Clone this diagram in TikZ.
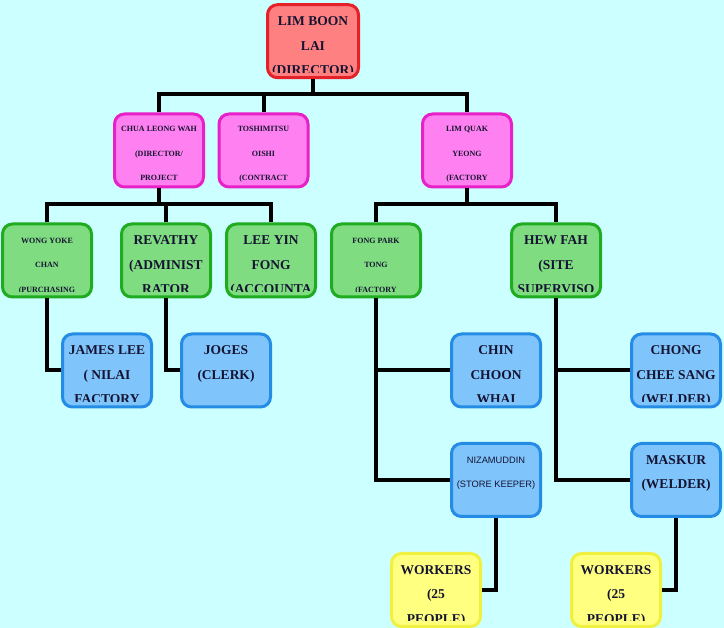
\documentclass[tikz,border=0pt]{standalone}
\usepackage{fontspec}
\setmainfont{Liberation Serif}
\newfontfamily\sansf{Liberation Sans}
\definecolor{bgc}{RGB}{204,255,255}
\definecolor{redf}{RGB}{255,128,128}\definecolor{redd}{RGB}{228,32,40}
\definecolor{magf}{RGB}{255,128,240}\definecolor{magd}{RGB}{232,32,200}
\definecolor{grnf}{RGB}{128,220,128}\definecolor{grnd}{RGB}{32,172,32}
\definecolor{bluf}{RGB}{128,196,252}\definecolor{blud}{RGB}{36,140,228}
\definecolor{yelf}{RGB}{255,255,128}\definecolor{yeld}{RGB}{240,240,64}
\definecolor{txt}{RGB}{20,20,50}
\tikzset{
  obox/.style={rectangle, rounded corners=10pt, line width=3pt, minimum width=89pt, minimum height=73pt, inner sep=0pt, anchor=north},
  rootbox/.style={obox, fill=redf, draw=redd},
  magbox/.style={obox, fill=magf, draw=magd},
  grnbox/.style={obox, fill=grnf, draw=grnd},
  blubox/.style={obox, fill=bluf, draw=blud},
  yelbox/.style={obox, fill=yelf, draw=yeld},
  big/.style={font=\fontsize{13.5}{13.5}\selectfont\bfseries, text=txt, inner sep=0pt, anchor=base},
  small/.style={font=\fontsize{8}{8}\selectfont\bfseries, text=txt, inner sep=0pt, anchor=base, yshift=3pt},
  smallg/.style={font=\fontsize{8}{8}\selectfont\bfseries, text=txt, inner sep=0pt, anchor=base, yshift=1.5pt},
  sml/.style={font=\fontsize{9.3}{9.3}\selectfont\sansf, text=txt, inner sep=0pt, anchor=base, yshift=1pt},
  conn/.style={line width=4pt, draw=black}
}
\newcommand\orgbox[8]{%
  \node[#4, path picture={
    \clip ([yshift=5.5pt]path picture bounding box.south west) rectangle (path picture bounding box.north east);
    \node[#5] at ([yshift=-21pt]path picture bounding box.north) {#6};
    \node[#5] at ([yshift=-45.5pt]path picture bounding box.north) {#7};
    \node[#5] at ([yshift=-70pt]path picture bounding box.north) {#8};
  }] (#1) at (#2,-#3) {};}
\begin{document}
\begin{tikzpicture}[x=1pt,y=1pt]
\fill[bgc] (0,0) rectangle (724,-628);
\useasboundingbox (0,0) rectangle (724,-628);
% boxes
\orgbox{root}{313}{3.2}{rootbox, minimum width=91pt}{big}{LIM BOON}{LAI}{(DIRECTOR)}
\orgbox{chua}{159}{112.5}{magbox}{small}{CHUA LEONG WAH}{(DIRECTOR/}{PROJECT}
\orgbox{tosh}{263.5}{112.5}{magbox}{small}{TOSHIMITSU}{OISHI}{(CONTRACT}
\orgbox{limq}{467}{112.5}{magbox}{small}{LIM QUAK}{YEONG}{(FACTORY}
\orgbox{wong}{47}{222.5}{grnbox}{smallg}{WONG YOKE}{CHAN}{(PURCHASING}
\orgbox{rev}{166}{222.5}{grnbox}{big}{REVATHY}{(ADMINIST}{RATOR}
\orgbox{lee}{271}{222.5}{grnbox}{big}{LEE YIN}{FONG}{(ACCOUNTA}
\orgbox{fong}{376}{222.5}{grnbox}{smallg}{FONG PARK}{TONG}{(FACTORY}
\orgbox{hew}{556}{222.5}{grnbox}{big}{HEW FAH}{(SITE}{SUPERVISO}
\orgbox{james}{107}{332.5}{blubox}{big}{JAMES LEE}{( NILAI}{FACTORY}
\orgbox{joges}{226}{332.5}{blubox}{big}{JOGES}{(CLERK)}{}
\orgbox{chin}{496}{332.5}{blubox}{big}{CHIN}{CHOON}{WHAI}
\orgbox{chong}{676}{332.5}{blubox}{big}{CHONG}{CHEE SANG}{(WELDER)}
\orgbox{niz}{496}{442}{blubox}{sml}{NIZAMUDDIN}{(STORE KEEPER)}{}
\orgbox{mask}{676}{442}{blubox}{big}{MASKUR}{(WELDER)}{}
\orgbox{wk1}{436}{552}{yelbox}{big}{WORKERS}{(25}{PEOPLE)}
\orgbox{wk2}{616}{552}{yelbox}{big}{WORKERS}{(25}{PEOPLE)}
% junctions
\coordinate (j1) at (313,-94);
\coordinate (j2) at (159,-204);
\coordinate (j3) at (467,-204);
% connectors
\draw[conn] (root.south) -- (j1);
\draw[conn] (chua.north) |- (j1) -| (limq.north);
\draw[conn] (tosh.north) -- (tosh.north |- j1);
\draw[conn] (chua.south) -- (j2);
\draw[conn] (wong.north) |- (j2) -| (lee.north);
\draw[conn] (rev.north) -- (rev.north |- j2);
\draw[conn] (limq.south) -- (j3);
\draw[conn] (fong.north) |- (j3) -| (hew.north);
\draw[conn] (wong.south) |- (james.west);
\draw[conn] (rev.south) |- (joges.west);
\draw[conn] (fong.south) |- (niz.west);
\draw[conn] (chin.west) -- (chin.west -| fong.south);
\draw[conn] (hew.south) |- (mask.west);
\draw[conn] (chong.west) -- (chong.west -| hew.south);
\draw[conn] (niz.south) |- (wk1.east);
\draw[conn] (mask.south) |- (wk2.east);
\end{tikzpicture}
\end{document}
